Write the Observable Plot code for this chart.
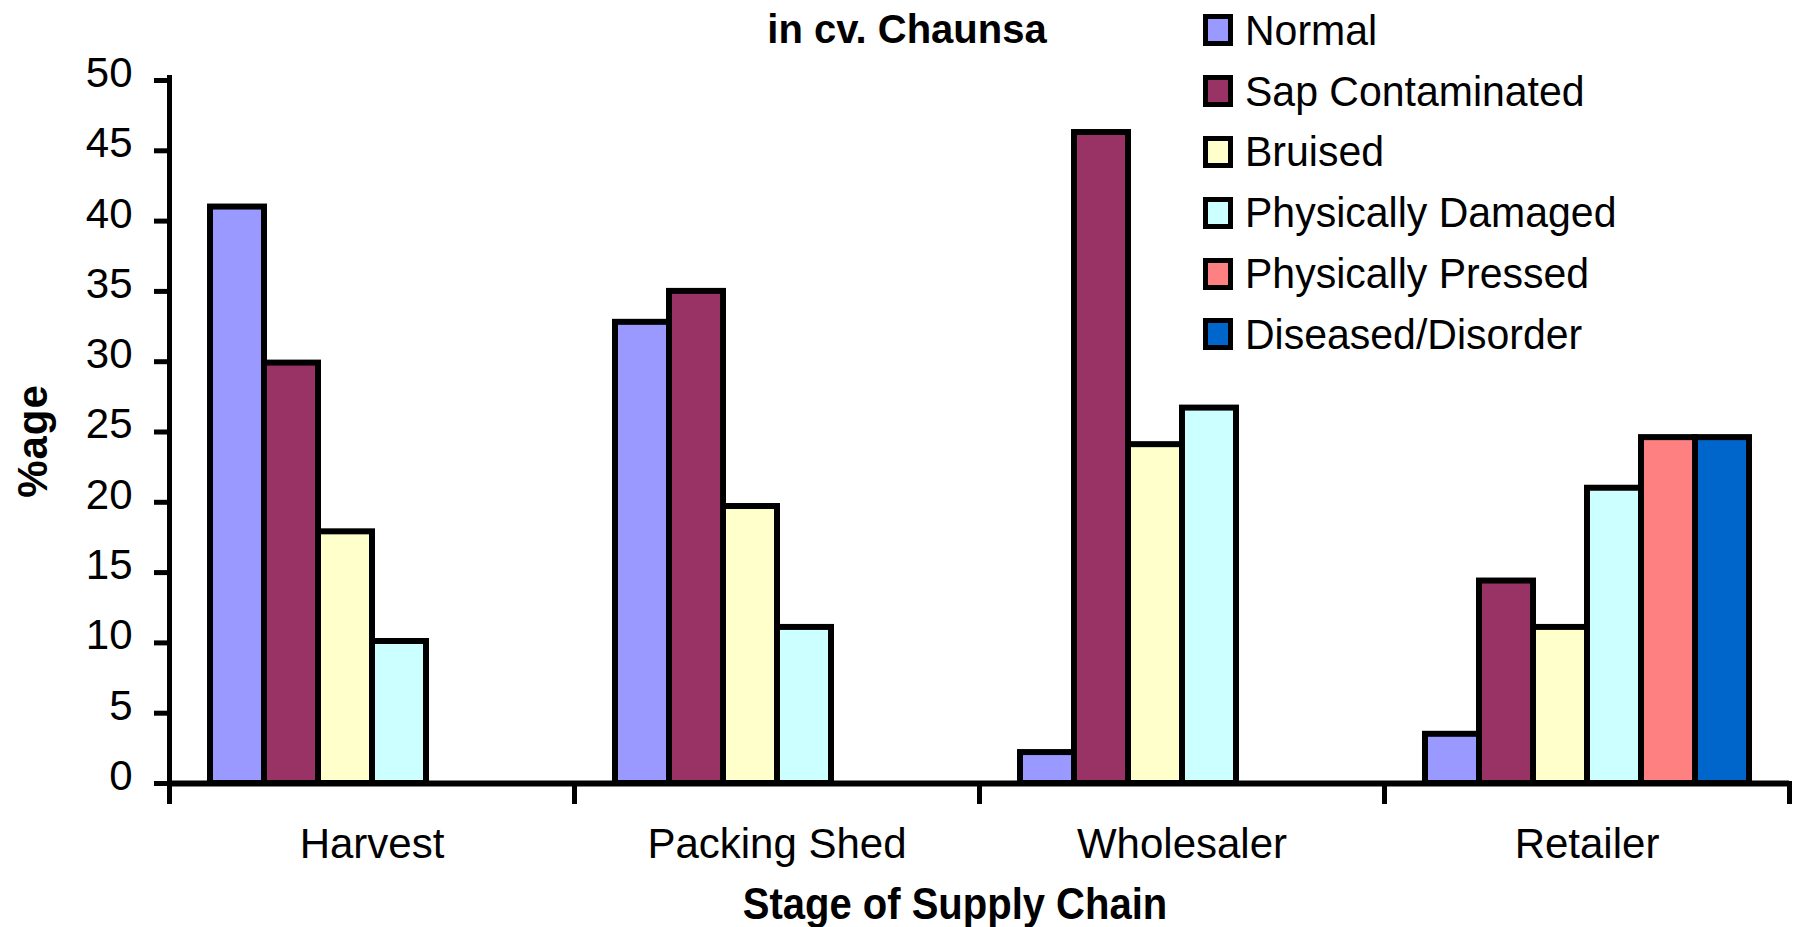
<!DOCTYPE html>
<html>
<head>
<meta charset="utf-8">
<script src="https://cdn.jsdelivr.net/npm/d3@7"></script>
<script src="https://cdn.jsdelivr.net/npm/@observablehq/plot@0.6"></script>
<style>
  body { margin: 0; background: #fff; font-family: "Liberation Sans", Arial, sans-serif; }
  #wrap { position: relative; width: 1800px; height: 927px; overflow: hidden; background: #fff; }
  #chart { position: absolute; left: 0; top: 0; }
  .title { position: absolute; left: 907px; top: 5px; transform: translateX(-50%); font-weight: bold; font-size: 40px; line-height: 48px; white-space: nowrap; color: #000; }
  .xlabel { position: absolute; left: 955px; top: 884px; transform: translateX(-50%) scaleY(1.1); font-weight: bold; font-size: 40px; line-height: 40px; white-space: nowrap; color: #000; }
  .ylabel { position: absolute; left: 33px; top: 441px; transform: translate(-50%, -50%) rotate(-90deg); font-weight: bold; font-size: 42px; line-height: 42px; letter-spacing: 1px; white-space: nowrap; color: #000; }
  .legend { position: absolute; left: 1203px; top: 0px; }
  .legend .row { display: flex; align-items: center; height: 60.8px; }
  .legend .sw { width: 30px; height: 32px; box-sizing: border-box; border: 5px solid #000; margin-right: 12px; flex: none; }
  .legend .lab { font-size: 41px; line-height: 41px; white-space: nowrap; color: #000; transform: scaleY(1.05); }
</style>
</head>
<body>
<div id="wrap">
  <div id="chart"></div>
  <div class="title">in cv. Chaunsa</div>
  <div class="xlabel">Stage of Supply Chain</div>
  <div class="ylabel">%age</div>
  <div class="legend" id="legend"></div>
</div>
<script>
const stages = ["Harvest", "Packing Shed", "Wholesaler", "Retailer"];
const series = ["Normal", "Sap Contaminated", "Bruised", "Physically Damaged", "Physically Pressed", "Diseased/Disorder"];
const colors = ["#9999FF", "#993366", "#FFFFCC", "#CCFFFF", "#FF8080", "#0066CC"];

// values per stage (Harvest, Packing Shed, Wholesaler, Retailer)
const normal   = [41.0, 32.8, 2.2, 3.5];
const sap      = [29.9, 35.0, 46.3, 14.4];
const bruised  = [17.9, 19.7, 24.1, 11.1];
const damaged  = [10.1, 11.1, 26.7, 21.0];
const pressed  = [0, 0, 0, 24.6];
const diseased = [0, 0, 0, 24.6];
const yTicks = [0, 5, 10, 15, 20, 25, 30, 35, 40, 45, 50];

const valueLists = [normal, sap, bruised, damaged, pressed, diseased];
const data = [];
stages.forEach((st, i) => {
  series.forEach((se, j) => {
    const v = valueLists[j][i];
    if (v > 0) data.push({stage: st, series: se, value: v});
  });
});

const W = 1800, H = 927;
const mTop = 80, mBottom = 144, mLeft = 168, mRight = 10;
const innerH = H - mTop - mBottom;

const chart = Plot.plot({
  width: W,
  height: H,
  marginTop: mTop,
  marginBottom: mBottom,
  marginLeft: mLeft,
  marginRight: mRight,
  style: {fontFamily: "'Liberation Sans', Arial, sans-serif", color: "#000", background: "#fff"},
  fx: {domain: stages, padding: 0, label: null},
  x: {domain: series, paddingInner: 0, paddingOuter: 0.75, align: 0.5, axis: null},
  y: {domain: [0, 50], label: null},
  color: {domain: series, range: colors},
  marks: [
    Plot.barY(data, {fx: "stage", x: "series", y: "value", fill: "series", stroke: "#000", strokeWidth: 6}),
    Plot.ruleY([0], {stroke: "#000", strokeWidth: 6}),
    // y axis line
    Plot.frame({anchor: "left", facetAnchor: "left", stroke: "#000", strokeWidth: 5, insetTop: -3, insetBottom: -18}),
    // category boundary ticks
    Plot.frame({anchor: "left", stroke: "#000", strokeWidth: 5, insetTop: innerH, insetBottom: -18}),
    Plot.frame({anchor: "right", facetAnchor: "right", stroke: "#000", strokeWidth: 5, insetTop: innerH, insetBottom: -18}),
    Plot.axisY({ticks: yTicks, tickSize: 15, strokeWidth: 5, tickFormat: () => "", label: null}),
    Plot.axisY({ticks: yTicks, tickSize: 0, tickPadding: 37, dy: -7, fontSize: 42, label: null}),
    Plot.axisFx({anchor: "bottom", tickSize: 0, tickPadding: 45, fontSize: 42, label: null})
  ]
});
document.getElementById("chart").appendChild(chart);

const legend = document.getElementById("legend");
series.forEach((s, i) => {
  const row = document.createElement("div");
  row.className = "row";
  const sw = document.createElement("div");
  sw.className = "sw";
  sw.style.background = colors[i];
  const lab = document.createElement("div");
  lab.className = "lab";
  lab.textContent = s;
  row.appendChild(sw);
  row.appendChild(lab);
  legend.appendChild(row);
});
</script>
</body>
</html>
